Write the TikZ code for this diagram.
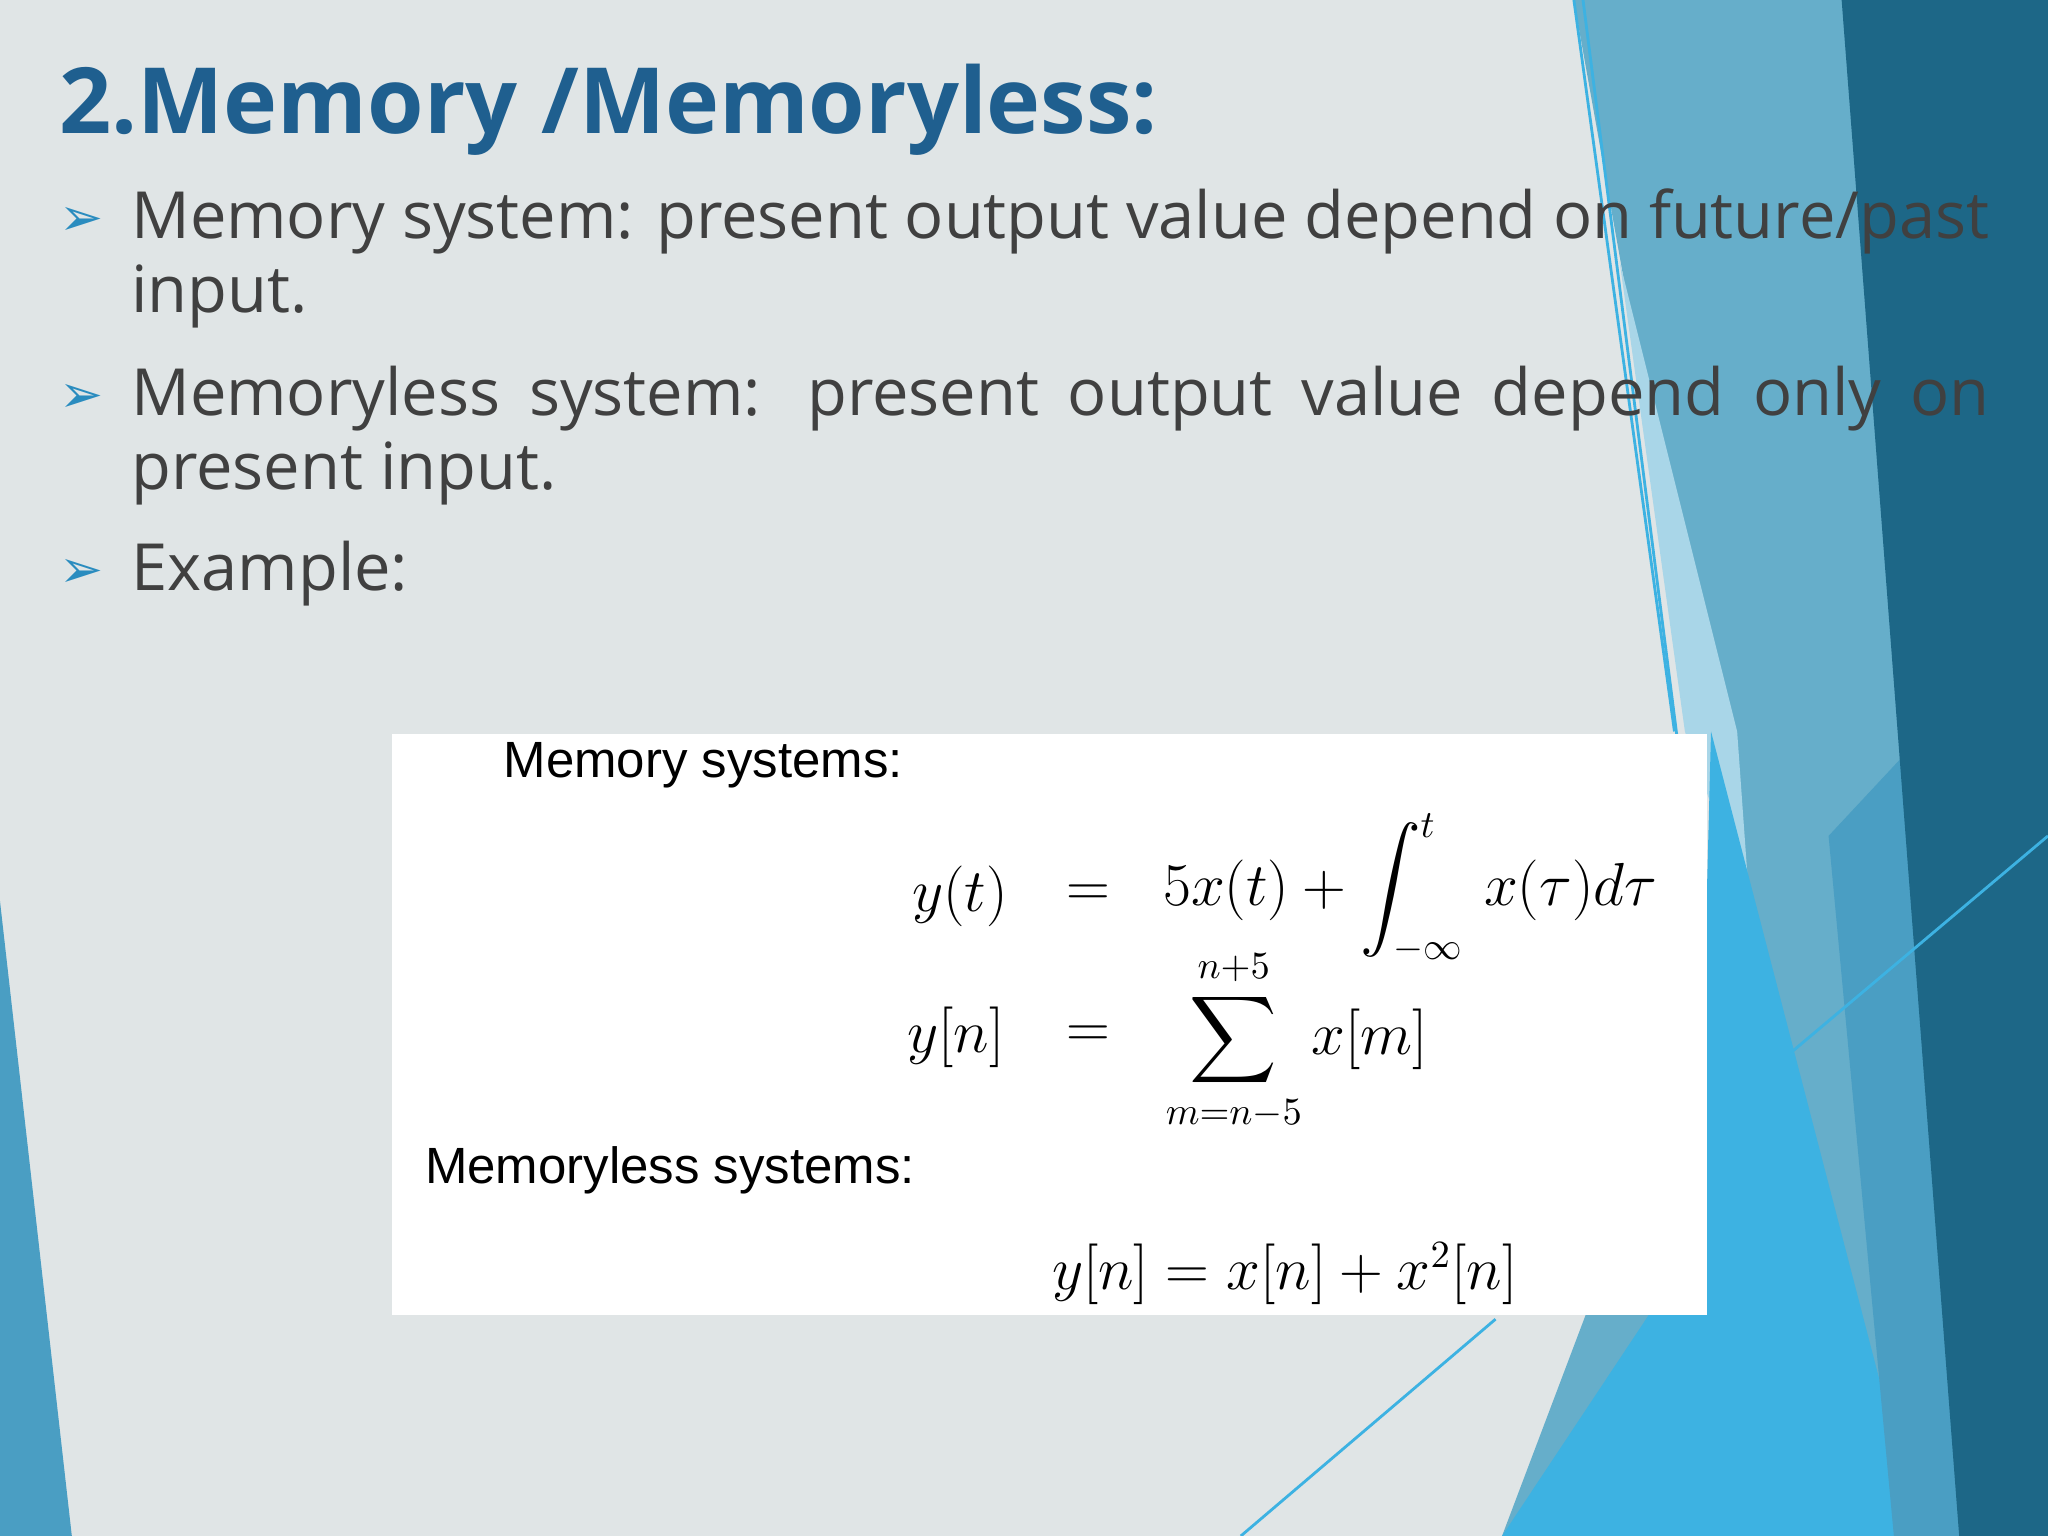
\documentclass[tikz,border=0pt]{standalone}
\usepackage{fontspec}
\usepackage{amsmath}
\setmainfont{Open Sans}
\newfontfamily\djv{DejaVu Sans}
\newfontfamily\arl{Liberation Sans}
\hyphenpenalty=10000
\exhyphenpenalty=10000
\definecolor{bg}{HTML}{E0E5E6}
\definecolor{ttl}{HTML}{1F5F8F}
\definecolor{txt}{HTML}{404040}
\definecolor{bul}{HTML}{2A8CBF}
\definecolor{b1}{HTML}{66AECA}
\definecolor{b2}{HTML}{1D6787}
\definecolor{b3}{HTML}{3DB2E2}
\definecolor{b4}{HTML}{A9D6E8}
\definecolor{b5}{HTML}{4A9EC3}
\begin{document}
\begin{tikzpicture}[x=0.01306cm,y=-0.01306cm,
  body/.style={anchor=north west,inner sep=0,text=txt,font=\fontsize{18.5}{21}\selectfont},
  bult/.style={anchor=north west,inner sep=0,text=bul,font=\djv\fontsize{15}{18}\selectfont},
  mth/.style={inner sep=0,font=\fontsize{16}{19}\selectfont},
  lbl/.style={anchor=west,inner sep=0,font=\arl\fontsize{14.5}{17}\selectfont}]
\fill[bg] (0,0) rectangle (1568,1176);
\useasboundingbox (0,0) rectangle (1568,1176);
% right decoration
\fill[b1] (1205,0) -- (1568,0) -- (1568,1176) -- (1150,1176) -- (1330,700) -- cycle;
\fill[b4] (1240,200) -- (1330,560) -- (1340,700) -- (1290,560) -- cycle;
\fill[b3] (1310,560) -- (1470,1176) -- (1150,1176) -- (1300,950) -- cycle;
\fill[b5] (1400,640) -- (1568,460) -- (1568,1176) -- (1450,1176) -- cycle;
\fill[b2] (1410,0) -- (1568,0) -- (1568,1176) -- (1500,1176) -- cycle;
\fill[b5] (0,690) -- (55,1176) -- (0,1176) -- cycle;
\draw[b3,line width=0.8pt] (1205,0) -- (1282,560);
\draw[b3,line width=0.8pt] (1212,0) -- (1362,1176);
\draw[b3,line width=0.8pt] (950,1176) -- (1145,1010);
\draw[b3,line width=0.8pt] (1307,860) -- (1568,640);
% title
\node[anchor=west,inner sep=0,text=ttl,font=\bfseries\fontsize{26}{30}\selectfont] (title) at (45,84) {2.Memory /Memoryless:};
% bullets
\node[bult] (b1) at (45,158) {➢};
\node[body,text width=18.58cm,align=justify] (t1) at (100,144) {Memory system: present output value depend on future/past input.};
\node[bult] (b2) at (45,294) {➢};
\node[body,text width=18.58cm,align=justify] (t2) at (100,280) {Memoryless system: present output value depend only on present input.};
\node[bult] (b3) at (45,428) {➢};
\node[body] (t3) at (100,414) {Example:};
% box
\fill[white] (300,562) rectangle (1307,1007);
\node[lbl] (m1) at (385,586) {Memory systems:};
\node[mth] (e1l) at (735,686) {$y(t)$};
\node[mth] (e1e) at (833,686) {$=$};
\node[mth,anchor=west] (e1r) at (890,680) {$5x(t)+\displaystyle\int_{-\infty}^{t}\,x(\tau)d\tau$};
\node[mth] (e2l) at (732,794) {$y[n]$};
\node[mth] (e2e) at (833,794) {$=$};
\node[mth,anchor=west] (e2r) at (892,797) {$\displaystyle\sum_{m=n-5}^{n+5}x[m]$};
\node[lbl] (m2) at (325,896) {Memoryless systems:};
\node[mth,anchor=west] (e3) at (805,975) {$y[n]=x[n]+x^2[n]$};
\end{tikzpicture}
\end{document}
